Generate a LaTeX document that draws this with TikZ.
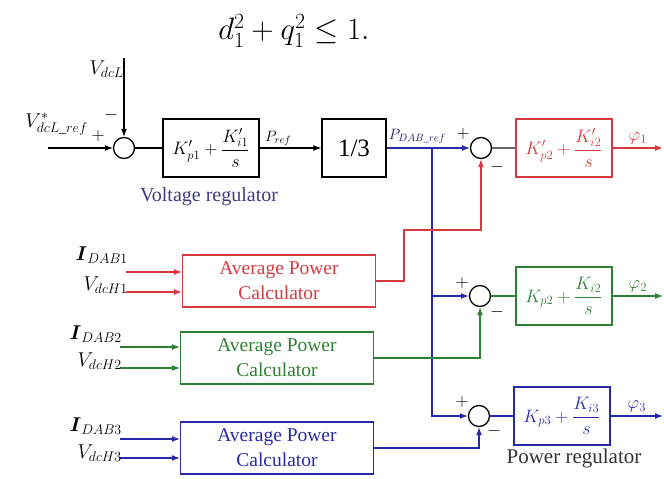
\documentclass[tikz,border=0pt]{standalone}
\usepackage{fix-cm}
\usepackage{amsmath}
\usepackage{fontspec}
\setmainfont{Liberation Serif}
\usetikzlibrary{arrows.meta,positioning,calc}
\definecolor{regred}{RGB}{214,58,64}
\definecolor{reggreen}{RGB}{46,128,52}
\definecolor{regblue}{RGB}{40,40,175}
\definecolor{navytext}{RGB}{60,60,130}
\tikzset{
  blk/.style={draw, line width=1.3pt, minimum width=96pt, minimum height=58pt, inner sep=0pt,
    font=\fontsize{18}{20}\selectfont},
  apc/.style={draw, line width=1.3pt, minimum width=193pt, minimum height=52pt, align=center,
    font=\fontsize{19.5}{25}\selectfont},
  summer/.style={draw, line width=1.3pt, circle, minimum size=21pt, inner sep=0pt},
  sig/.style={-{Latex[length=8pt,width=6pt]}, line width=1.2pt},
  wire/.style={line width=1.2pt},
  sgn/.style={font=\fontsize{18}{18}\selectfont, inner sep=0pt},
  lbl/.style={inner sep=0pt, font=\fontsize{20}{20}\selectfont},
}
\begin{document}
\begin{tikzpicture}[x=1pt,y=-1pt]
\useasboundingbox (0,0) rectangle (664,479);
% Restriccion
\node (eq) at (294,31) {\fontsize{31}{36}\selectfont $d_1^2+q_1^2\leq 1.$};
% Lazo de tension
\node[summer] (s1) at (124,148) {};
\node[blk] (pi1) at (211,148) {$\displaystyle K'_{p1}+\frac{K'_{i1}}{s}$};
\node[blk, minimum width=64pt, font=\fontsize{25}{25}\selectfont] (third) at (354,148) {1/3};
\node[navytext, font=\fontsize{20}{20}\selectfont] (vreg) at (209,197) {Voltage regulator};
\coordinate (vin) at (48,148);
\coordinate (vtop) at (124,58);
\node[lbl, anchor=base east] (lvref) at (88,127) {$V^{*}_{dcL\_ref}$};
\node[lbl, anchor=base east] (lvdc) at (124,74) {$V_{dcL}$};
\node[sgn] (p1) at (98,136) {$+$};
\node[sgn] (m1) at (111,115) {$-$};
\draw[sig] (vin) -- (s1);
\draw[sig] (vtop) -- (s1);
\draw[wire] (s1) -- (pi1);
\draw[sig] (pi1) -- node[pos=0.3, above, inner sep=2pt, font=\fontsize{15}{15}\selectfont] (lpref) {$P_{ref}$} (third);
% Reguladores de potencia
\node[summer] (s2) at (481,148) {};
\node[blk, regred] (pir) at (564,148) {$\displaystyle K'_{p2}+\frac{K'_{i2}}{s}$};
\node[summer] (s3) at (480,296) {};
\node[blk, reggreen] (pig) at (564,296) {$\displaystyle K_{p2}+\frac{K_{i2}}{s}$};
\node[summer] (s4) at (479,416) {};
\node[blk, regblue] (pib) at (562,416) {$\displaystyle K_{p3}+\frac{K_{i3}}{s}$};
\node[font=\fontsize{21}{21}\selectfont, black!80] (preg) at (574,458) {Power regulator};
\coordinate (br1) at (432,148);
\draw[sig, regblue] (third) -- (s2);
\node[anchor=south west, inner sep=2pt, font=\fontsize{15}{15}\selectfont, regblue!60!black] (lpdab) at (third.east |- 0,146) {$P_{DAB\_ref}$};
\draw[sig, regblue] (br1) |- (s3);
\draw[sig, regblue] (br1) |- (s4);
\draw[wire, black!60] (s2) -- (pir);
\draw[wire, reggreen] (s3) -- (pig);
\draw[wire, regblue] (s4) -- (pib);
\coordinate (phi1) at (663,148);
\coordinate (phi2) at (663,296);
\coordinate (phi3) at (663,416);
\draw[sig, regred] (pir) -- node[above, font=\fontsize{18}{18}\selectfont] (lphi1) {$\varphi_1$} (phi1);
\draw[sig, reggreen] (pig) -- node[above, font=\fontsize{18}{18}\selectfont] (lphi2) {$\varphi_2$} (phi2);
\draw[sig, regblue] (pib) -- node[above, font=\fontsize{18}{18}\selectfont] (lphi3) {$\varphi_3$} (phi3);
\node[sgn] (p2) at (463,134) {$+$};
\node[sgn] (m2) at (497,167) {$-$};
\node[sgn] (p3) at (462,283) {$+$};
\node[sgn] (m3) at (497,312) {$-$};
\node[sgn] (p4) at (462,402) {$+$};
\node[sgn] (m4) at (494,431) {$-$};
% Calculadores de potencia media
\node[apc, regred] (apcr) at (279,281) {Average Power\\Calculator};
\node[apc, reggreen] (apcg) at (277,358) {Average Power\\Calculator};
\node[apc, regblue] (apcb) at (277,448) {Average Power\\Calculator};
\coordinate (fbr) at (404,230);
\draw[sig, regred] (apcr.east) -| (fbr) -| (s2.south);
\draw[sig, reggreen] (apcg.east) -| (s3.south);
\draw[sig, regblue] (apcb.east) -| (s4.south);
% Entradas
\coordinate (ir1) at (126,272);
\coordinate (vr1) at (126,292);
\coordinate (ig2) at (120,347);
\coordinate (vg2) at (120,368);
\coordinate (ib3) at (120,439);
\coordinate (vb3) at (120,458);
\draw[sig, regred] (ir1) -- (ir1 -| apcr.west);
\draw[sig, regred] (vr1) -- (vr1 -| apcr.west);
\draw[sig, reggreen] (ig2) -- (ig2 -| apcg.west);
\draw[sig, reggreen] (vg2) -- (vg2 -| apcg.west);
\draw[sig, regblue] (ib3) -- (ib3 -| apcb.west);
\draw[sig, regblue] (vb3) -- (vb3 -| apcb.west);
\node[lbl, anchor=base east] (lir1) at (128,260) {$\boldsymbol{I}_{DAB1}$};
\node[lbl, anchor=base east] (lvr1) at (128,290) {$V_{dcH1}$};
\node[lbl, anchor=base east] (lig2) at (122,339) {$\boldsymbol{I}_{DAB2}$};
\node[lbl, anchor=base east] (lvg2) at (122,366) {$V_{dcH2}$};
\node[lbl, anchor=base east] (lib3) at (122,431) {$\boldsymbol{I}_{DAB3}$};
\node[lbl, anchor=base east] (lvb3) at (122,458) {$V_{dcH3}$};
\end{tikzpicture}
\end{document}
